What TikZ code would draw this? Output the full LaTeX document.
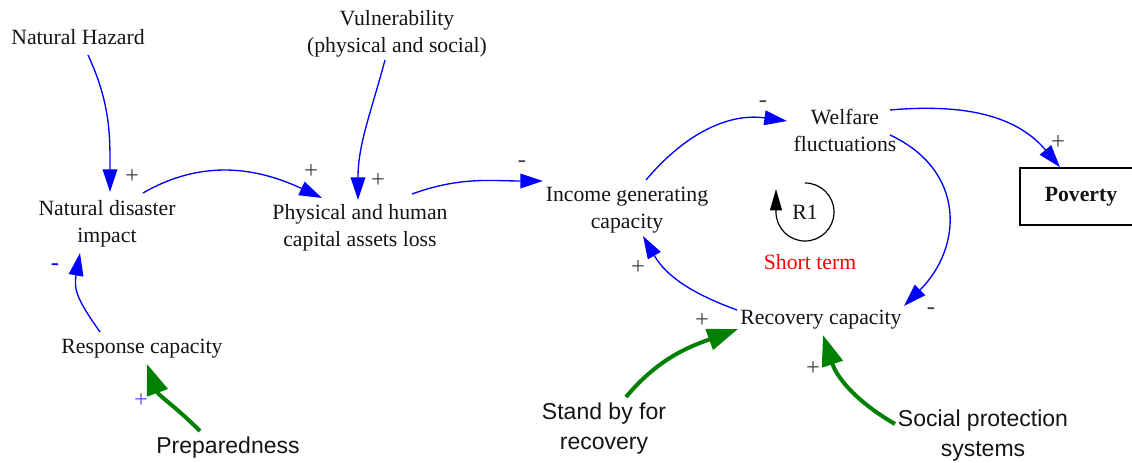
\documentclass[tikz,border=0pt]{standalone}
\usepackage{fontspec}
\setmainfont{Liberation Serif}
\newfontfamily\arialfont{Liberation Sans}
\usetikzlibrary{arrows.meta,calc}
\definecolor{linkblue}{RGB}{0,0,255}
\definecolor{policygreen}{RGB}{0,128,0}
\begin{document}
\begin{tikzpicture}[x=0.75pt,y=0.75pt,
  var/.style={font=\fontsize{16.3}{20.25}\selectfont, align=center, inner sep=0pt, text=black!92},
  ext/.style={font=\arialfont\fontsize{17.25}{22.5}\selectfont, align=center, inner sep=0pt, text=black!92},
  link/.style={draw=linkblue, line width=1pt, -{Triangle[length=17pt,width=11pt]}},
  policy/.style={draw=policygreen, line width=3pt, -{Triangle[length=23pt,width=16pt]}},
  pol/.style={font=\fontsize{18.5}{20}\selectfont, text=black!75, inner sep=0pt},
]
\clip (0,0) rectangle (1132,-463);
\useasboundingbox (0,0) rectangle (1132,-463);

% variables
\node[var] (nh)   at (78,-37)   {Natural Hazard};
\node[var] (vul)  at (397,-34)  {Vulnerability\\(physical and social)};
\node[var] (ndi)  at (107,-224) {Natural disaster\\impact};
\node[var] (ph)   at (360,-228) {Physical and human\\capital assets loss};
\node[var] (inc)  at (627,-210) {Income generating\\capacity};
\node[var] (wf)   at (845,-130) {Welfare\\fluctuations};
\node[var, draw, line width=1.1pt, minimum width=91.5pt, minimum height=42.75pt] (pov) at (1081,-196.5) {\textbf{Poverty}};
\node[var] (rc)   at (821,-320) {Recovery capacity};
\node[var] (resp) at (142,-349) {Response capacity};
\node[ext] (prep) at (228,-448) {Preparedness};
\node[ext] (stand) at (604,-429) {Stand by for\\recovery};
\node[ext] (soc)  at (983,-436) {Social protection\\systems};

% loop marker
\node[var] (r1) at (805,-212) {R1};
\node[var, text=red] (st) at (810,-262) {Short term};
\draw[line width=0.9pt, -{Triangle[length=16pt,width=9pt]}]
  ($(r1)+(0,29)$) arc[start angle=90, end angle=-180, radius=29] -- ++(0,23);

% causal links
\draw[link] ($(nh)+(10,-18)$)  to[out=-65,in=90]  ($(ndi)+(3,32)$);
\draw[link] ($(ndi)+(36,31)$)  to[out=30,in=155]  ($(ph)+(-38,30)$);
\draw[link] ($(vul)+(-12,-26)$) to[out=-105,in=90] ($(ph)+(-2,28)$);
\draw[link] ($(ph)+(52,34)$)   to[out=20,in=180]  ($(inc)+(-84,29)$);
\draw[link] ($(inc)+(19,30)$)  to[out=50,in=172]  ($(wf)+(-58,9)$);
\draw[link] ($(wf)+(45,20)$)   to[out=5,in=130]   ($(pov.north)+(-21,0)$);
\draw[link] ($(wf)+(45,-5)$)   to[out=-25,in=45,looseness=1.25] ($(rc)+(83,14)$);
\draw[link] ($(rc)+(-84,10)$)  to[out=160,in=-60] ($(inc)+(16,-26)$);
\draw[link] ($(resp)+(-42,17)$) to[out=125,in=-100,looseness=1.2] ($(ndi)+(-27,-29)$);

% policy levers
\draw[policy] ($(prep)+(-28,17)$)  to[out=135,in=-70] ($(resp)+(5,-15)$);
\draw[policy] ($(stand)+(22,32)$)  to[out=50,in=200]  ($(rc)+(-83,-9)$);
\draw[policy] ($(soc)+(-88,12)$)   to[out=150,in=-72] ($(rc)+(2,-15)$);

% polarities
\node[pol] (s1)  at (132,-177) {+};
\node[pol] (s2)  at (311,-172) {+};
\node[pol] (s3)  at (378,-181) {+};
\node[pol] (s4)  at (522,-164) {-};
\node[pol] (s5)  at (763,-104) {-};
\node[pol] (s6)  at (1058,-143) {+};
\node[pol] (s7)  at (931,-311) {-};
\node[pol] (s8)  at (638,-268) {+};
\node[pol, text=linkblue] (s9)  at (55,-267) {-};
\node[pol, text=linkblue!70] (s10) at (141,-401) {+};
\node[pol] (s11) at (702,-321) {+};
\node[pol] (s12) at (813,-369) {+};
\end{tikzpicture}
\end{document}
